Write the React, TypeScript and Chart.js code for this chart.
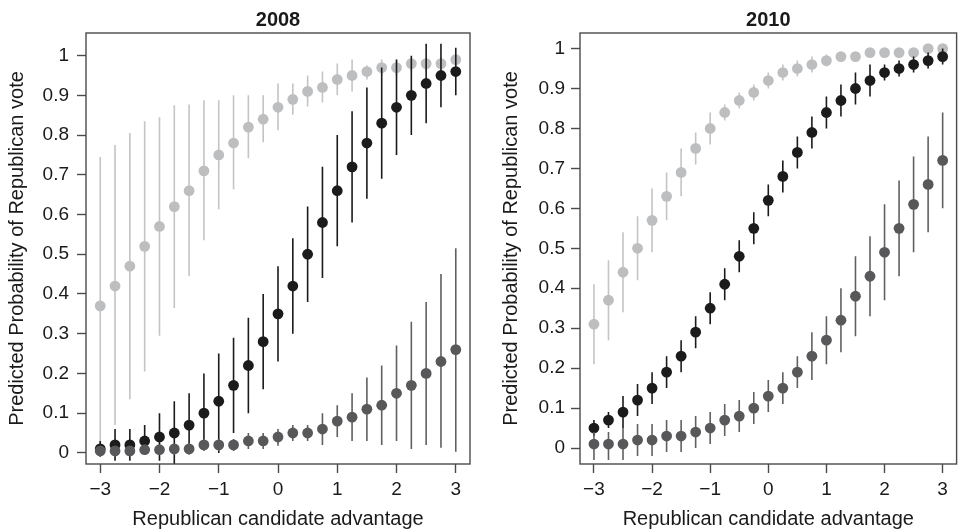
import React, { useEffect, useRef } from 'react';
import { Chart, registerables } from 'chart.js';

Chart.register(...registerables);

// ---------- data ----------
const xValues = [-3, -2.75, -2.5, -2.25, -2, -1.75, -1.5, -1.25, -1, -0.75, -0.5, -0.25, 0, 0.25, 0.5, 0.75, 1, 1.25, 1.5, 1.75, 2, 2.25, 2.5, 2.75, 3];
const xTickValues = [-3, -2, -1, 0, 1, 2, 3];
const xTickLabels = ['\u22123', '\u22122', '\u22121', '0', '1', '2', '3'];
const yTickValues = [0, 0.1, 0.2, 0.3, 0.4, 0.5, 0.6, 0.7, 0.8, 0.9, 1];
const yTickLabels = ['0', '0.1', '0.2', '0.3', '0.4', '0.5', '0.6', '0.7', '0.8', '0.9', '1'];

// 2008
const light2008Mean = [0.37, 0.42, 0.47, 0.52, 0.57, 0.62, 0.66, 0.71, 0.75, 0.78, 0.82, 0.84, 0.87, 0.89, 0.91, 0.92, 0.94, 0.95, 0.96, 0.97, 0.97, 0.98, 0.98, 0.98, 0.99];
const light2008Hi = [0.745, 0.775, 0.805, 0.835, 0.845, 0.875, 0.877, 0.888, 0.888, 0.9, 0.9, 0.9, 0.93, 0.93, 0.95, 0.96, 0.98, 0.99, 0.975, 0.99, 0.99, 0.995, 0.995, 0.995, 1.0];
const light2008Lo = [0.0, 0.07, 0.135, 0.205, 0.295, 0.365, 0.445, 0.535, 0.613, 0.663, 0.742, 0.782, 0.812, 0.851, 0.872, 0.882, 0.9, 0.91, 0.94, 0.95, 0.95, 0.96, 0.96, 0.965, 0.975];

const black2008Mean = [0.01, 0.02, 0.02, 0.03, 0.04, 0.05, 0.07, 0.1, 0.13, 0.17, 0.22, 0.28, 0.35, 0.42, 0.5, 0.58, 0.66, 0.72, 0.78, 0.83, 0.87, 0.9, 0.93, 0.95, 0.96];
const black2008Hi = [0.03, 0.06, 0.06, 0.07, 0.1, 0.13, 0.15, 0.2, 0.25, 0.29, 0.34, 0.4, 0.47, 0.54, 0.62, 0.72, 0.8, 0.86, 0.92, 0.97, 0.99, 1.0, 1.03, 1.03, 1.02];
const black2008Lo = [-0.01, -0.02, -0.02, 0.0, -0.02, -0.03, 0.0, 0.01, 0.0, 0.05, 0.1, 0.16, 0.23, 0.3, 0.38, 0.44, 0.52, 0.58, 0.64, 0.69, 0.75, 0.8, 0.83, 0.87, 0.9];

const dark2008Mean = [0.005, 0.005, 0.005, 0.008, 0.008, 0.01, 0.01, 0.02, 0.02, 0.02, 0.03, 0.03, 0.04, 0.05, 0.05, 0.06, 0.08, 0.09, 0.11, 0.12, 0.15, 0.17, 0.2, 0.23, 0.26];
const dark2008Hi = [0.015, 0.015, 0.015, 0.02, 0.02, 0.02, 0.025, 0.035, 0.035, 0.035, 0.05, 0.05, 0.06, 0.07, 0.07, 0.1, 0.12, 0.15, 0.19, 0.22, 0.27, 0.33, 0.38, 0.45, 0.515];
const dark2008Lo = [-0.005, -0.005, -0.005, -0.005, -0.005, -0.005, -0.005, 0.005, 0.005, 0.005, 0.01, 0.01, 0.018, 0.03, 0.03, 0.02, 0.04, 0.03, 0.03, 0.02, 0.03, 0.01, 0.02, 0.013, 0.003];

// 2010
const light2010Mean = [0.31, 0.37, 0.44, 0.5, 0.57, 0.63, 0.69, 0.75, 0.8, 0.84, 0.87, 0.89, 0.92, 0.94, 0.95, 0.96, 0.97, 0.98, 0.98, 0.99, 0.99, 0.99, 0.99, 1.0, 1.0];
const light2010Hi = [0.41, 0.47, 0.54, 0.58, 0.65, 0.69, 0.75, 0.79, 0.84, 0.86, 0.89, 0.91, 0.94, 0.96, 0.97, 0.98, 0.985, 0.99, 0.99, 1.0, 1.0, 1.0, 1.0, 1.005, 1.005];
const light2010Lo = [0.21, 0.27, 0.34, 0.42, 0.49, 0.57, 0.63, 0.71, 0.76, 0.82, 0.85, 0.87, 0.9, 0.92, 0.93, 0.94, 0.955, 0.97, 0.97, 0.98, 0.98, 0.98, 0.98, 0.995, 0.995];

const black2010Mean = [0.05, 0.07, 0.09, 0.12, 0.15, 0.19, 0.23, 0.29, 0.35, 0.41, 0.48, 0.55, 0.62, 0.68, 0.74, 0.79, 0.84, 0.87, 0.9, 0.92, 0.94, 0.95, 0.96, 0.97, 0.98];
const black2010Hi = [0.07, 0.09, 0.13, 0.16, 0.19, 0.23, 0.27, 0.33, 0.39, 0.45, 0.52, 0.59, 0.66, 0.72, 0.78, 0.83, 0.88, 0.91, 0.94, 0.96, 0.96, 0.97, 0.98, 0.99, 1.0];
const black2010Lo = [0.03, 0.05, 0.05, 0.08, 0.11, 0.15, 0.19, 0.25, 0.31, 0.37, 0.44, 0.51, 0.58, 0.64, 0.7, 0.75, 0.8, 0.83, 0.86, 0.88, 0.92, 0.93, 0.94, 0.95, 0.96];

const dark2010Mean = [0.01, 0.01, 0.01, 0.02, 0.02, 0.03, 0.03, 0.04, 0.05, 0.07, 0.08, 0.1, 0.13, 0.15, 0.19, 0.23, 0.27, 0.32, 0.38, 0.43, 0.49, 0.55, 0.61, 0.66, 0.72];
const dark2010Hi = [0.04, 0.04, 0.05, 0.06, 0.06, 0.07, 0.07, 0.08, 0.09, 0.11, 0.12, 0.14, 0.17, 0.19, 0.23, 0.29, 0.33, 0.4, 0.48, 0.53, 0.61, 0.67, 0.73, 0.78, 0.84];
const dark2010Lo = [-0.03, -0.03, -0.03, -0.02, -0.02, -0.01, -0.01, 0.0, 0.01, 0.03, 0.04, 0.06, 0.09, 0.11, 0.15, 0.17, 0.21, 0.24, 0.28, 0.33, 0.37, 0.43, 0.49, 0.54, 0.6];

// ---------- styles ----------
const FONT = "'Liberation Sans', Arial, Helvetica, sans-serif";
const LIGHT = '#BDBEC0';
const LIGHT_BAR = '#C3C4C6';
const BLACK = '#1C1B1C';
const DARK = '#58585A';
const DARK_BAR = '#606062';
const AXIS = '#4a4a4a';
const TEXT = '#1a1a1a';

type Series = { mean: number[]; lo: number[]; hi: number[]; color: string; barColor: string };

function seriesDatasets(s: Series, baseOrder: number) {
  const bars: any[] = [];
  xValues.forEach((x, i) => {
    bars.push({ x, y: s.lo[i] });
    bars.push({ x, y: s.hi[i] });
    bars.push({ x, y: null });
  });
  return [
    {
      data: xValues.map((x, i) => ({ x, y: s.mean[i] })),
      pointRadius: 5.4,
      pointBorderWidth: 0,
      pointBackgroundColor: s.color,
      pointBorderColor: s.color,
      showLine: false,
      order: baseOrder,
    },
    {
      data: bars,
      showLine: true,
      spanGaps: false,
      pointRadius: 0,
      borderWidth: 1.6,
      borderColor: s.barColor,
      order: baseOrder + 1,
    },
  ];
}

const boxPlugin = {
  id: 'box',
  afterDraw(chart: any) {
    const { ctx, chartArea } = chart;
    ctx.save();
    ctx.strokeStyle = AXIS;
    ctx.lineWidth = 1.4;
    ctx.strokeRect(chartArea.left, chartArea.top, chartArea.right - chartArea.left, chartArea.bottom - chartArea.top);
    ctx.restore();
  },
};

type Panel = {
  title: string;
  series: Series[];
  yMin: number;
  yMax: number;
  yWidth: number;
  padRight: number;
  yTitlePad: number;
  yLabelPad: number;
};

function makeConfig(p: Panel): any {
  const datasets = [
    ...seriesDatasets(p.series[2], 0),
    ...seriesDatasets(p.series[1], 2),
    ...seriesDatasets(p.series[0], 4),
  ];
  return {
    type: 'scatter',
    data: { datasets },
    plugins: [boxPlugin],
    options: {
      animation: false,
      responsive: false,
      devicePixelRatio: 1,
      layout: { padding: { left: 0, right: p.padRight, top: 0, bottom: 0 } },
      plugins: {
        legend: { display: false },
        tooltip: { enabled: false },
        title: {
          display: true,
          text: p.title,
          fullSize: false,
          color: TEXT,
          font: { family: FONT, size: 20, weight: 'bold', lineHeight: 1.2 },
          padding: { top: 8, bottom: 1 },
        },
      },
      scales: {
        x: {
          type: 'linear',
          min: -3.24,
          max: 3.24,
          afterBuildTicks: (s: any) => {
            s.ticks = xTickValues.map((v) => ({ value: v }));
          },
          afterFit: (s: any) => {
            s.height = 68;
          },
          grid: { display: true, drawOnChartArea: false, drawTicks: true, tickLength: 9, tickWidth: 1.4, tickColor: AXIS, color: AXIS },
          border: { display: false },
          ticks: {
            autoSkip: false,
            maxRotation: 0,
            padding: 5,
            color: TEXT,
            font: { family: FONT, size: 19 },
            callback: (v: number) => xTickLabels[xTickValues.indexOf(v)],
          },
          title: {
            display: true,
            text: 'Republican candidate advantage',
            color: TEXT,
            font: { family: FONT, size: 20, lineHeight: 1.2 },
            padding: { top: 0, bottom: 1 },
          },
        },
        y: {
          type: 'linear',
          min: p.yMin,
          max: p.yMax,
          afterBuildTicks: (s: any) => {
            s.ticks = yTickValues.map((v) => ({ value: v }));
          },
          afterFit: (s: any) => {
            s.width = p.yWidth;
          },
          grid: { display: true, drawOnChartArea: false, drawTicks: true, tickLength: 9, tickWidth: 1.4, tickColor: AXIS, color: AXIS },
          border: { display: false },
          ticks: {
            autoSkip: false,
            padding: p.yLabelPad,
            color: TEXT,
            font: { family: FONT, size: 19 },
            callback: (v: number) => yTickLabels[yTickValues.indexOf(v)],
          },
          title: {
            display: true,
            text: 'Predicted Probability of Republican vote',
            color: TEXT,
            font: { family: FONT, size: 20, lineHeight: 1.2 },
            padding: { top: p.yTitlePad, bottom: 0 },
          },
        },
      },
    },
  };
}

const panel2008: Panel = {
  title: '2008',
  series: [
    { mean: light2008Mean, lo: light2008Lo, hi: light2008Hi, color: LIGHT, barColor: LIGHT_BAR },
    { mean: black2008Mean, lo: black2008Lo, hi: black2008Hi, color: BLACK, barColor: BLACK },
    { mean: dark2008Mean, lo: dark2008Lo, hi: dark2008Hi, color: DARK, barColor: DARK_BAR },
  ],
  yMin: -0.028,
  yMax: 1.057,
  yWidth: 86,
  padRight: 11,
  yTitlePad: 5,
  yLabelPad: 8,
};

const panel2010: Panel = {
  title: '2010',
  series: [
    { mean: light2010Mean, lo: light2010Lo, hi: light2010Hi, color: LIGHT, barColor: LIGHT_BAR },
    { mean: black2010Mean, lo: black2010Lo, hi: black2010Hi, color: BLACK, barColor: BLACK },
    { mean: dark2010Mean, lo: dark2010Lo, hi: dark2010Hi, color: DARK, barColor: DARK_BAR },
  ],
  yMin: -0.04,
  yMax: 1.039,
  yWidth: 99,
  padRight: 1,
  yTitlePad: 18,
  yLabelPad: 6,
};

function PanelChart({ panel, left }: { panel: Panel; left: number }) {
  const ref = useRef<HTMLCanvasElement | null>(null);
  useEffect(() => {
    if (!ref.current) return;
    const chart = new Chart(ref.current, makeConfig(panel));
    return () => chart.destroy();
  }, [panel]);
  return (
    <canvas
      ref={ref}
      width={481}
      height={532}
      style={{ position: 'absolute', left, top: 0, width: 481, height: 532 }}
    />
  );
}

export default function App() {
  return (
    <div style={{ position: 'fixed', left: 0, top: 0, width: 962, height: 532, background: '#ffffff', overflow: 'hidden' }}>
      <PanelChart panel={panel2008} left={0} />
      <PanelChart panel={panel2010} left={481} />
    </div>
  );
}
